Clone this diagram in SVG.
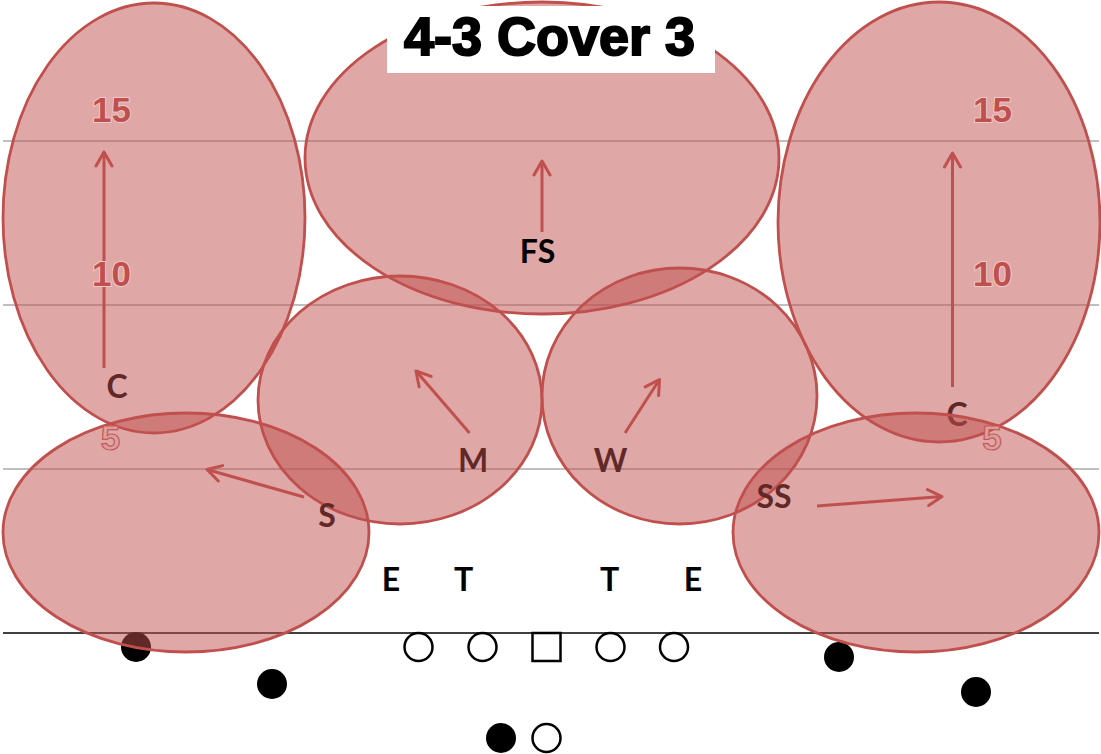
<svg xmlns="http://www.w3.org/2000/svg" width="1101" height="754" viewBox="0 0 1101 754">
<style>
.yard{stroke:#bfbfbf;stroke-width:2;fill:none}
.los{stroke:#000;stroke-width:1.5;fill:none}
.zone{fill:#c0504d;fill-opacity:0.5;stroke:#c0504d;stroke-width:2.8}
.lbl{font-family:Lato,"Open Sans","Liberation Sans",sans-serif;font-weight:bold;font-size:32px;fill:#000;text-anchor:middle}
.num{font-family:"Liberation Sans",Arial,sans-serif;font-weight:bold;font-size:35px;text-anchor:middle;fill:#c0504d;stroke:#efcaca;stroke-width:2;paint-order:stroke}
.num5{font-family:"Liberation Sans",Arial,sans-serif;font-weight:bold;font-size:35px;text-anchor:middle;fill:#dc9e9e;stroke:#c65a58;stroke-width:1.2}
.arr{stroke:#c0504d;stroke-width:3;fill:none;marker-end:url(#head)}
.open{fill:#fff;stroke:#000;stroke-width:2.5}
.fill{fill:#000}
.title{font-family:"Liberation Sans",Arial,sans-serif;font-weight:bold;font-size:54px;fill:#000;stroke:#000;stroke-width:2;text-anchor:middle}
</style>
<defs>
<marker id="head" viewBox="-16 -10 20 20" markerWidth="20" markerHeight="20" refX="0" refY="0" orient="auto" markerUnits="userSpaceOnUse">
<path d="M-14,-8 L0,0 L-14,8" fill="none" stroke="#c0504d" stroke-width="3" stroke-linecap="round" stroke-linejoin="round"/>
</marker>
</defs>
<rect x="0" y="0" width="1101" height="754" fill="#fff"/>
<g id="field">
<line class="yard" x1="3" y1="141" x2="1099" y2="141"/>
<line class="yard" x1="3" y1="305" x2="1099" y2="305"/>
<line class="yard" x1="3" y1="469" x2="1099" y2="469"/>
<line class="los" x1="3" y1="633" x2="1099" y2="633"/>
</g>
<g id="offense">
<circle class="fill" cx="136" cy="647" r="15"/>
<circle class="fill" cx="272" cy="684" r="15"/>
<circle class="fill" cx="839" cy="657" r="15"/>
<circle class="fill" cx="976" cy="692" r="15"/>
<circle class="fill" cx="501" cy="738" r="15"/>
<circle class="open" cx="546.5" cy="738" r="14"/>
<circle class="open" cx="418.5" cy="647" r="14"/>
<circle class="open" cx="482.5" cy="647" r="14"/>
<rect class="open" x="532.5" y="633" width="28" height="28"/>
<circle class="open" cx="610.5" cy="647" r="14"/>
<circle class="open" cx="674" cy="647" r="14"/>
</g>
<g id="zone-c-left">
<text class="lbl" x="117" y="398">C</text>
<ellipse class="zone" cx="154" cy="218" rx="151" ry="215"/>
</g>
<g id="zone-fs">
<ellipse class="zone" cx="542" cy="158" rx="237" ry="156"/>
</g>
<g id="zone-c-right">
<text class="lbl" x="957" y="426">C</text>
<ellipse class="zone" cx="939" cy="222" rx="161" ry="220"/>
</g>
<g id="zone-m">
<text class="lbl" x="473" y="472">M</text>
<ellipse class="zone" cx="400" cy="400" rx="142" ry="124"/>
</g>
<g id="zone-w">
<text class="lbl" x="610.5" y="472">W</text>
<ellipse class="zone" cx="679.5" cy="396" rx="137.5" ry="128"/>
</g>
<g id="zone-s">
<text class="lbl" x="327" y="527">S</text>
<ellipse class="zone" cx="186" cy="532.5" rx="183" ry="119.5"/>
</g>
<g id="zone-ss">
<text class="lbl" x="774" y="508">SS</text>
<ellipse class="zone" cx="916" cy="532.5" rx="183" ry="119.5"/>
</g>
<g id="title">
<rect x="387" y="6" width="328" height="67" fill="#fff"/>
<text class="title" x="549.5" y="55">4-3 Cover 3</text>
</g>
<g id="connectors">
<line class="arr" x1="104" y1="368" x2="104" y2="152"/>
<line class="arr" x1="542" y1="232" x2="542" y2="161"/>
<line class="arr" x1="952.5" y1="387" x2="952.5" y2="153"/>
<line class="arr" x1="469.5" y1="433" x2="416" y2="371"/>
<line class="arr" x1="625" y1="433" x2="659.5" y2="379.5"/>
<line class="arr" x1="304" y1="497" x2="207" y2="469.5"/>
<line class="arr" x1="817" y1="506" x2="942" y2="496.5"/>
</g>
<g id="fs">
<text class="lbl" x="537.5" y="263">FS</text>
</g>
<g id="dline">
<text class="lbl" x="391" y="591">E</text>
<text class="lbl" x="463.5" y="591">T</text>
<text class="lbl" x="609.5" y="591">T</text>
<text class="lbl" x="693" y="591">E</text>
</g>
<g id="yard-numbers">
<text class="num" x="111.5" y="122">15</text>
<text class="num" x="111.5" y="286">10</text>
<text class="num5" x="110.5" y="450">5</text>
<text class="num" x="992.5" y="122">15</text>
<text class="num" x="992.5" y="286">10</text>
<text class="num5" x="992" y="450">5</text>
</g>
</svg>
